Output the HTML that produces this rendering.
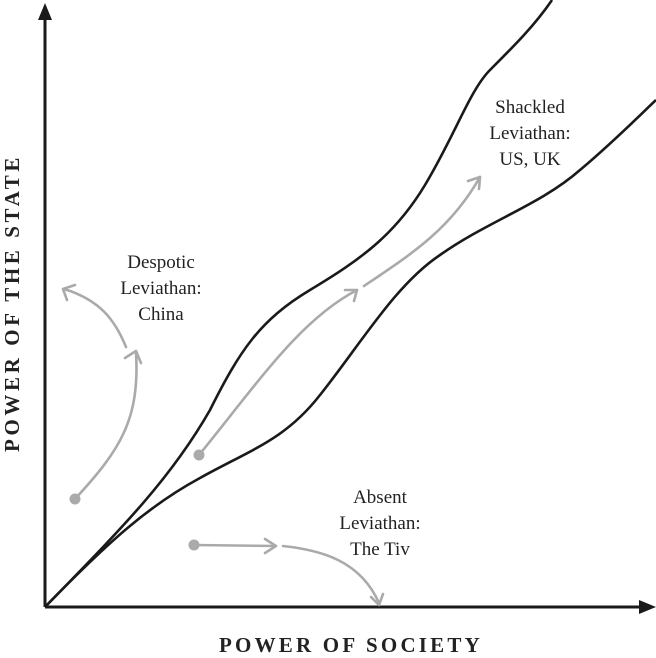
<!DOCTYPE html>
<html><head><style>
html,body{margin:0;padding:0;background:#fff;}
svg{display:block;}
text{font-family:"Liberation Serif",serif;fill:#222;}
</style></head><body>
<svg width="656" height="658" viewBox="0 0 656 658" xmlns="http://www.w3.org/2000/svg">
<g stroke="#1a1a1a" stroke-width="3" fill="none">
<line x1="45" y1="607" x2="45" y2="12"/>
<line x1="45" y1="607" x2="648" y2="607"/>
</g>
<polygon points="45,3 38,20 52,20" fill="#1a1a1a"/>
<polygon points="656,607 639,600 639,614" fill="#1a1a1a"/>
<g stroke="#1a1a1a" stroke-width="2.6" fill="none">
<path d="M45,607 C120,530 170,480 210,410 C240,350 260,320 310,290 C360,260 395,235 425,185 C455,135 470,90 490,70 C515,45 535,25 552,0"/>
<path d="M45,607 C110,540 150,505 200,478 C250,450 285,440 320,395 C360,345 395,285 440,255 C490,220 540,205 580,170 C610,145 635,120 656,100"/>
</g>
<g stroke="#aaa" stroke-width="2.6" fill="none" stroke-linecap="round">
<path d="M75,499 C120,450 140,420 136,352"/>
<path d="M126,347 C115,320 100,300 64,289"/>
<path d="M199,455 C260,380 300,320 357,290"/>
<path d="M364,286 C410,255 450,230 480,177"/>
<path d="M194,545 L275,546"/>
<path d="M283,546 C320,550 360,560 379,603"/>
<g stroke-linejoin="round">
<polyline points="125,358 136,351 141,363"/>
<polyline points="67,300 63,289 75,285"/>
<polyline points="345,290 357,290 354,301"/>
<polyline points="468,181 480,177 479,189"/>
<polyline points="265,539 276,546 265,553"/>
<polyline points="371,597 379,605 383,594"/>
</g>
</g>
<g fill="#aaa">
<circle cx="75" cy="499" r="5.5"/>
<circle cx="199" cy="455" r="5.5"/>
<circle cx="194" cy="545" r="5.5"/>
</g>
<g font-size="19" text-anchor="middle">
<text x="161" y="268">Despotic</text>
<text x="161" y="294">Leviathan:</text>
<text x="161" y="320">China</text>
<text x="530" y="113">Shackled</text>
<text x="530" y="139">Leviathan:</text>
<text x="530" y="165">US, UK</text>
<text x="380" y="503">Absent</text>
<text x="380" y="529">Leviathan:</text>
<text x="380" y="555">The Tiv</text>
</g>
<text x="351" y="652" font-size="21" font-weight="bold" text-anchor="middle" letter-spacing="3.2">POWER OF SOCIETY</text>
<text transform="translate(19,303) rotate(-90)" font-size="21" font-weight="bold" text-anchor="middle" letter-spacing="3.6">POWER OF THE STATE</text>
</svg>
</body></html>
